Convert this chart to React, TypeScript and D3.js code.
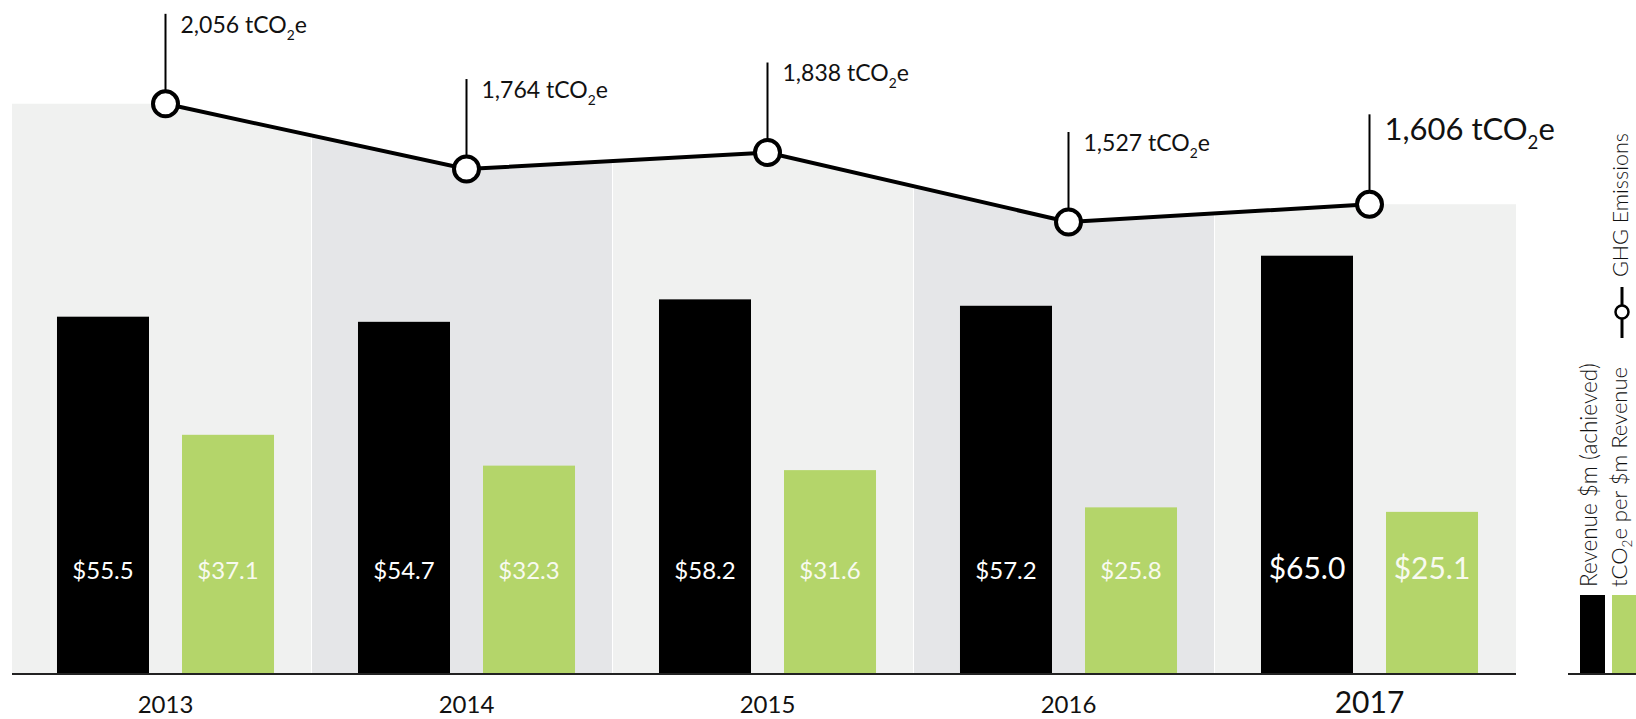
import React from 'react';
import * as d3 from 'd3';

const years = ['2013', '2014', '2015', '2016', '2017'];
const revenue = [55.5, 54.7, 58.2, 57.2, 65.0];
const intensity = [37.1, 32.3, 31.6, 25.8, 25.1];
const emissions = [2056, 1764, 1838, 1527, 1606];
const seriesKeys = ['revenue', 'intensity'];
const legendRevenue = 'Revenue $m (achieved)';
const legendIntensityPre = 'tCO';
const legendIntensityPost = 'e per $m Revenue';
const legendLine = 'GHG Emissions';

const FONT = "Lato, 'Open Sans', sans-serif";
const GREEN = '#b4d56a';
const LIGHT = '#f0f1f0';
const DARK = '#e5e6e8';

export default function App() {
  const W = 1636;
  const H = 719;
  const left = 12;
  const right = 1516;
  const base = 673;
  const hl = years.length - 1;

  const x0 = d3.scaleBand<string>().domain(years).range([15, 1520]).paddingInner(0.279).paddingOuter(0.1395);
  const x1 = d3.scaleBand<string>().domain(seriesKeys).range([0, x0.bandwidth()]).paddingInner(0.264);
  const y = d3.scaleLinear().domain([0, 100]).range([base, base - 642]);
  const yE = d3.scaleLinear().domain([1500, 2100]).range([228, 94]);

  const cx = (i: number) => (x0(years[i]) as number) + x0.bandwidth() / 2;
  const pts: [number, number][] = emissions.map((e, i) => [cx(i), yE(e)]);
  const areaPts: [number, number][] = [[left, pts[0][1]], ...pts, [right, pts[pts.length - 1][1]]];
  const areaGen = d3.area<[number, number]>().x(d => d[0]).y0(base).y1(d => d[1]);
  const lineGen = d3.line<[number, number]>();

  const bounds = [left];
  for (let i = 0; i < years.length - 1; i++) bounds.push((cx(i) + cx(i + 1)) / 2 - 4);
  bounds.push(right);

  const fmtE = d3.format(',');
  const fmtR = (v: number) => '$' + d3.format('.1f')(v);

  return (
    <svg width={W} height={H} style={{ position: 'absolute', left: 0, top: 0, display: 'block' }} fontFamily={FONT}>
      <rect x={0} y={0} width={W} height={H} fill="#fff" />
      <defs>
        <clipPath id="areaClip">
          <path d={areaGen(areaPts) || ''} />
        </clipPath>
      </defs>
      <g clipPath="url(#areaClip)">
        {years.map((yr, i) => (
          <rect key={yr} x={bounds[i]} y={0} width={bounds[i + 1] - bounds[i] - (i < years.length - 1 ? 1 : 0)} height={base + 2}
            fill={i % 2 === 0 ? LIGHT : DARK} />
        ))}
      </g>

      {years.map((yr, i) => {
        const gx = x0(yr) as number;
        const vals = [revenue[i], intensity[i]];
        return (
          <g key={yr} transform={`translate(${gx},0)`}>
            {seriesKeys.map((k, j) => (
              <rect key={k} x={x1(k)} y={y(vals[j])} width={x1.bandwidth()} height={base - y(vals[j])}
                fill={j === 0 ? '#000' : GREEN} />
            ))}
            {seriesKeys.map((k, j) => (
              <text key={k + 't'} x={(x1(k) as number) + x1.bandwidth() / 2} y={579}
                textAnchor="middle" fill={j === 0 ? '#fff' : '#f8faf0'}
                fontSize={i === hl ? 30 : 24} fontWeight={400}>
                {fmtR(vals[j])}
              </text>
            ))}
          </g>
        );
      })}

      <line x1={left} x2={right} y1={674} y2={674} stroke="#222" strokeWidth={2} />

      {years.map((yr, i) => (
        <text key={yr + 'x'} x={cx(i)} y={713} textAnchor="middle" fill="#111"
          fontSize={i === hl ? 30 : 24} fontWeight={400}>{yr}</text>
      ))}

      {pts.map((p, i) => {
        const top = p[1] - 90;
        const fs = i === hl ? 31 : 23;
        return (
          <g key={'lead' + i}>
            <line x1={p[0]} x2={p[0]} y1={top} y2={p[1]} stroke="#000" strokeWidth={2} />
            <text x={p[0] + 15} y={top + fs * 0.82} fontSize={fs} fill="#111" fontWeight={400}>
              {fmtE(emissions[i]) + ' tCO'}
              <tspan fontSize={fs * 0.6} dy={fs * 0.3}>2</tspan>
              <tspan dy={-fs * 0.3}>e</tspan>
            </text>
          </g>
        );
      })}

      <path d={lineGen(pts) || ''} fill="none" stroke="#000" strokeWidth={4} />
      {pts.map((p, i) => (
        <circle key={'c' + i} cx={p[0]} cy={p[1]} r={12.5} fill="#fff" stroke="#000" strokeWidth={4} />
      ))}

      {/* Legend */}
      <line x1={1568} x2={W} y1={674} y2={674} stroke="#222" strokeWidth={2} />
      <rect x={1580} y={595} width={25} height={78} fill="#000" />
      <rect x={1612} y={595} width={30} height={78} fill={GREEN} />
      <text transform="translate(1597,587) rotate(-90)" fontSize={22.5} fill="#111" fontWeight={300}>{legendRevenue}</text>
      <text transform="translate(1627,587) rotate(-90)" fontSize={22} fill="#111" fontWeight={300}>
        {legendIntensityPre}
        <tspan fontSize={13.5} dy={5}>2</tspan>
        <tspan dy={-5}>{legendIntensityPost}</tspan>
      </text>
      <line x1={1622} x2={1622} y1={287} y2={338} stroke="#000" strokeWidth={3} />
      <circle cx={1622} cy={312} r={6.5} fill="#fff" stroke="#000" strokeWidth={2.5} />
      <text transform="translate(1628,277) rotate(-90)" fontSize={21.5} fill="#111" fontWeight={300}>{legendLine}</text>
    </svg>
  );
}
